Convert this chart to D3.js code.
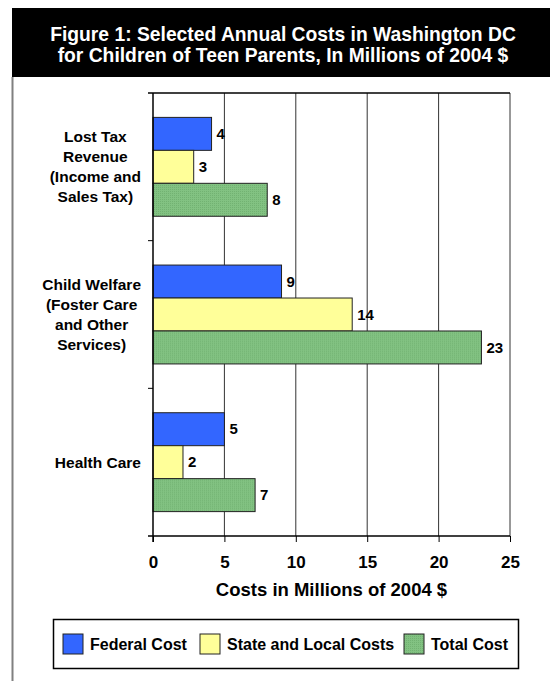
<!DOCTYPE html>
<html>
<head>
<meta charset="utf-8">
<script src="https://cdn.jsdelivr.net/npm/d3@7"></script>
<style>
  body { margin: 0; background: #fff; }
  text { font-family: "Liberation Sans", Arial, sans-serif; font-weight: bold; }
</style>
</head>
<body>
<div id="chart"></div>
<script>
"use strict";
const categories = [
    ["Lost Tax", "Revenue", "(Income and", "Sales Tax)"],
    ["Child Welfare", "(Foster Care", "and Other", "Services)"],
    ["Health Care"]
];
const categoryKeys = ["Lost Tax", "Child Welfare", "Health Care"];
const seriesNames = ["Federal Cost", "State and Local Costs", "Total Cost"];
const federalCost = [4.1, 9.0, 5.0];
const stateLocalCosts = [2.85, 13.95, 2.1];
const totalCost = [8.0, 23.0, 7.15];
const xTicks = [0, 5, 10, 15, 20, 25];
const titleLines = ["Figure 1: Selected Annual Costs in Washington DC",
    "for Children of Teen Parents, In Millions of 2004 $"];
const xTitle = "Costs in Millions of 2004 $";

const width = 550, height = 681;
const margin = { top: 93, right: 40, bottom: 145, left: 153 };
const seriesColors = ["#3366ff", "#ffff99", "url(#greenDots)"];

const svg = d3.select("#chart").append("svg")
    .attr("width", width)
    .attr("height", height);

// dotted green fill
const pat = svg.append("defs").append("pattern")
    .attr("id", "greenDots")
    .attr("width", 2).attr("height", 2)
    .attr("patternUnits", "userSpaceOnUse");
pat.append("rect").attr("width", 2).attr("height", 2).attr("fill", "#82c282");
pat.append("rect").attr("width", 1).attr("height", 1).attr("fill", "#72b272");

// title band
svg.append("rect")
    .attr("x", 12).attr("y", 8)
    .attr("width", width - 12).attr("height", 69)
    .attr("fill", "#000");
svg.append("g").selectAll("text")
    .data(titleLines)
    .enter().append("text")
    .attr("x", 283)
    .attr("y", (d, i) => 41 + i * 21)
    .attr("text-anchor", "middle")
    .attr("fill", "#fff")
    .style("font-size", "19.3px")
    .text(d => d);

// left frame line
svg.append("line")
    .attr("x1", 12.5).attr("x2", 12.5)
    .attr("y1", 77).attr("y2", height)
    .attr("stroke", "#808080").attr("stroke-width", 2);

const x = d3.scaleLinear()
    .domain([0, 25])
    .range([margin.left, width - margin.right]);
const y0 = d3.scaleBand()
    .domain(categoryKeys)
    .range([margin.top, height - margin.bottom]);
const y1 = d3.scaleBand()
    .domain(seriesNames)
    .range([0, y0.bandwidth()])
    .paddingOuter(0.74);

const plotBottom = height - margin.bottom;

// gridlines
svg.append("g").selectAll("line")
    .data(xTicks.slice(1))
    .enter().append("line")
    .attr("x1", d => x(d)).attr("x2", d => x(d))
    .attr("y1", margin.top).attr("y2", plotBottom)
    .attr("stroke", "#333").attr("stroke-width", 1);
svg.append("line")
    .attr("x1", margin.left - 5).attr("x2", x(25))
    .attr("y1", margin.top).attr("y2", margin.top)
    .attr("stroke", "#000").attr("stroke-width", 1.5);

// bars
const rows = categoryKeys.map((c, i) => ({
    key: c,
    values: [federalCost[i], stateLocalCosts[i], totalCost[i]]
}));
const group = svg.append("g").selectAll("g")
    .data(rows)
    .enter().append("g")
    .attr("transform", d => `translate(0, ${y0(d.key)})`);
group.selectAll("rect")
    .data(d => d.values.map((v, j) => ({ name: seriesNames[j], value: v, j: j })))
    .enter().append("rect")
    .attr("x", x(0))
    .attr("y", d => y1(d.name))
    .attr("width", d => x(d.value) - x(0))
    .attr("height", y1.bandwidth())
    .attr("fill", d => seriesColors[d.j])
    .attr("stroke", "#222").attr("stroke-width", 1);
group.selectAll("text")
    .data(d => d.values.map((v, j) => ({ name: seriesNames[j], value: v })))
    .enter().append("text")
    .attr("x", d => x(d.value) + 5)
    .attr("y", d => y1(d.name) + y1.bandwidth() / 2)
    .attr("dy", "0.35em")
    .style("font-size", "15px")
    .text(d => d3.format(".0f")(d.value));

// category labels: lines centred within a block that is right-aligned at 141
const catLabel = svg.append("g").selectAll("text")
    .data(categories)
    .enter().append("text")
    .attr("text-anchor", "middle")
    .style("font-size", "15.5px");
catLabel.selectAll("tspan")
    .data(d => d)
    .enter().append("tspan")
    .attr("x", 0)
    .attr("y", (d, i) => i * 20)
    .attr("dy", "0.35em")
    .text(d => d);
catLabel.attr("transform", function (d, i) {
    let maxW = 0;
    d3.select(this).selectAll("tspan").each(function () {
        maxW = Math.max(maxW, this.getComputedTextLength());
    });
    const cy = y0(categoryKeys[i]) + y0.bandwidth() / 2 - (d.length - 1) * 10;
    return `translate(${141 - maxW / 2}, ${cy})`;
});

// y axis with boundary ticks
svg.append("line")
    .attr("x1", margin.left).attr("x2", margin.left)
    .attr("y1", margin.top).attr("y2", plotBottom + 6)
    .attr("stroke", "#000").attr("stroke-width", 1.5);
svg.append("g").selectAll("line")
    .data(categoryKeys.slice(1))
    .enter().append("line")
    .attr("x1", margin.left - 5).attr("x2", margin.left)
    .attr("y1", d => y0(d)).attr("y2", d => y0(d))
    .attr("stroke", "#000");

// x axis
const xAxis = svg.append("g")
    .attr("transform", `translate(0, ${plotBottom})`)
    .call(d3.axisBottom(x).tickValues(xTicks).tickSize(6).tickPadding(14));
xAxis.select(".domain").remove();
xAxis.selectAll("line").attr("stroke", "#000");
xAxis.selectAll("text")
    .style("font-size", "17px")
    .attr("fill", "#000");
svg.append("line")
    .attr("x1", margin.left - 5).attr("x2", x(25))
    .attr("y1", plotBottom).attr("y2", plotBottom)
    .attr("stroke", "#000").attr("stroke-width", 1.5);

svg.append("text")
    .attr("x", (x(0) + x(25)) / 2)
    .attr("y", 596)
    .attr("text-anchor", "middle")
    .style("font-size", "18.5px")
    .text(xTitle);

// legend
svg.append("rect")
    .attr("x", 53.5).attr("y", 619.5)
    .attr("width", 465).attr("height", 49)
    .attr("fill", "#fff")
    .attr("stroke", "#000").attr("stroke-width", 1.5);
const legendX = [63, 200, 404];
const legendItem = svg.append("g").selectAll("g")
    .data(seriesNames)
    .enter().append("g")
    .attr("transform", (d, i) => `translate(${legendX[i]}, 634)`);
legendItem.append("rect")
    .attr("width", 20).attr("height", 20)
    .attr("fill", (d, i) => seriesColors[i])
    .attr("stroke", "#222");
legendItem.append("text")
    .attr("x", 27)
    .attr("y", 10)
    .attr("dy", "0.35em")
    .style("font-size", "16px")
    .text(d => d);
</script>
</body>
</html>
